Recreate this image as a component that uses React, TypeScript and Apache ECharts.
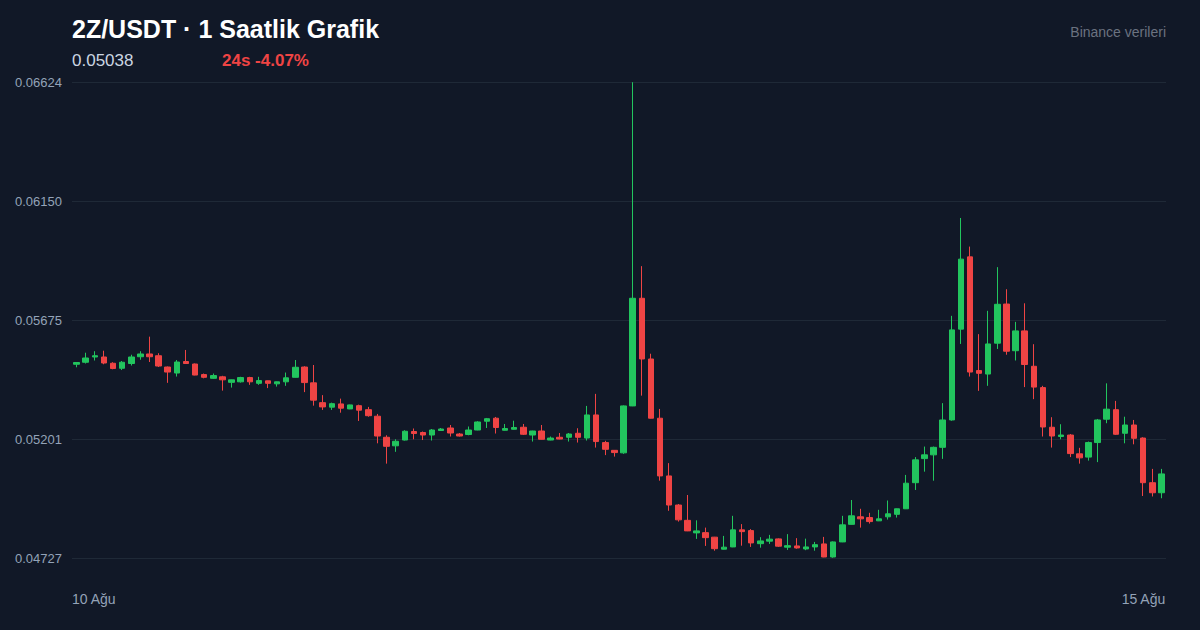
import React, { useEffect, useRef } from "react";
import * as echarts from "echarts";

// [open, close, low, high]
const candles: number[][] = [
  [0.05499, 0.05506, 0.05487, 0.05508],
  [0.05507, 0.05524, 0.05502, 0.05545],
  [0.05528, 0.05533, 0.05514, 0.05551],
  [0.05528, 0.05504, 0.05499, 0.05553],
  [0.05503, 0.05482, 0.05479, 0.05507],
  [0.05483, 0.05507, 0.05476, 0.05512],
  [0.05502, 0.05528, 0.05494, 0.05537],
  [0.05529, 0.0554, 0.05517, 0.05551],
  [0.0554, 0.05529, 0.05508, 0.05609],
  [0.05533, 0.05492, 0.05488, 0.05543],
  [0.05488, 0.05468, 0.05425, 0.0549],
  [0.05464, 0.05508, 0.0545, 0.05516],
  [0.0551, 0.05502, 0.055, 0.05556],
  [0.055, 0.05456, 0.05455, 0.05502],
  [0.05458, 0.05447, 0.05443, 0.05462],
  [0.05443, 0.05454, 0.05441, 0.05462],
  [0.05449, 0.05437, 0.05394, 0.05453],
  [0.05427, 0.05437, 0.05406, 0.05438],
  [0.05429, 0.05446, 0.05426, 0.05449],
  [0.05446, 0.05429, 0.05417, 0.05449],
  [0.05423, 0.05434, 0.05417, 0.05449],
  [0.05433, 0.05423, 0.05404, 0.05434],
  [0.05421, 0.05429, 0.0541, 0.0543],
  [0.05429, 0.05445, 0.05413, 0.05466],
  [0.05447, 0.05487, 0.05446, 0.05516],
  [0.05488, 0.05426, 0.05388, 0.05491],
  [0.05425, 0.05356, 0.05334, 0.05496],
  [0.05346, 0.05329, 0.05317, 0.05376],
  [0.05328, 0.05342, 0.05317, 0.05346],
  [0.05341, 0.05324, 0.05306, 0.05362],
  [0.05321, 0.05337, 0.0532, 0.05338],
  [0.05334, 0.05316, 0.05273, 0.05338],
  [0.05318, 0.05294, 0.0529, 0.05329],
  [0.05292, 0.05213, 0.05184, 0.05301],
  [0.05208, 0.05172, 0.05103, 0.05216],
  [0.05174, 0.05192, 0.0515, 0.052],
  [0.05197, 0.05232, 0.05195, 0.05236],
  [0.05231, 0.05223, 0.052, 0.05243],
  [0.05227, 0.05217, 0.05197, 0.05231],
  [0.05217, 0.05237, 0.05195, 0.05241],
  [0.05235, 0.05241, 0.05234, 0.05245],
  [0.05245, 0.05225, 0.05211, 0.05257],
  [0.05221, 0.05213, 0.05211, 0.05225],
  [0.05219, 0.05237, 0.05216, 0.05251],
  [0.05237, 0.05269, 0.05236, 0.05272],
  [0.05272, 0.05282, 0.05245, 0.05285],
  [0.05284, 0.05247, 0.05223, 0.05289],
  [0.05236, 0.05243, 0.05235, 0.05261],
  [0.0524, 0.05247, 0.05239, 0.05274],
  [0.05248, 0.0522, 0.05217, 0.05261],
  [0.05217, 0.05233, 0.05191, 0.05234],
  [0.05233, 0.052, 0.05199, 0.05257],
  [0.05197, 0.05205, 0.05196, 0.05211],
  [0.05208, 0.05201, 0.052, 0.05225],
  [0.05208, 0.05221, 0.05191, 0.05225],
  [0.05224, 0.05208, 0.05187, 0.05244],
  [0.05205, 0.05297, 0.05195, 0.05333],
  [0.05297, 0.05191, 0.05167, 0.05381],
  [0.05187, 0.0516, 0.05137, 0.05194],
  [0.05156, 0.05147, 0.05131, 0.05157],
  [0.05146, 0.05333, 0.05142, 0.05335],
  [0.05333, 0.05762, 0.05332, 0.06623],
  [0.05762, 0.0552, 0.05374, 0.0589],
  [0.0552, 0.05284, 0.05283, 0.05541],
  [0.05284, 0.05054, 0.05035, 0.05321],
  [0.05054, 0.04938, 0.04915, 0.05105],
  [0.04938, 0.04879, 0.04872, 0.04942],
  [0.04877, 0.04835, 0.04834, 0.04978],
  [0.04827, 0.04835, 0.04803, 0.04877],
  [0.04828, 0.04808, 0.04775, 0.04848],
  [0.0481, 0.04764, 0.04756, 0.04811],
  [0.04762, 0.0477, 0.04761, 0.04815],
  [0.04771, 0.04839, 0.0477, 0.04895],
  [0.04839, 0.04832, 0.04776, 0.04862],
  [0.04836, 0.04787, 0.04771, 0.04842],
  [0.04784, 0.04795, 0.04768, 0.0481],
  [0.04794, 0.04802, 0.04783, 0.04819],
  [0.04803, 0.04774, 0.04771, 0.04805],
  [0.0477, 0.04776, 0.04759, 0.04822],
  [0.04775, 0.04767, 0.04764, 0.04806],
  [0.04763, 0.04771, 0.04758, 0.04804],
  [0.04771, 0.0478, 0.04756, 0.04791],
  [0.04783, 0.04731, 0.0473, 0.04811],
  [0.04731, 0.04791, 0.04728, 0.04793],
  [0.04791, 0.04859, 0.0479, 0.04895],
  [0.04861, 0.04895, 0.0486, 0.04958],
  [0.04891, 0.04883, 0.04848, 0.04923],
  [0.04888, 0.04872, 0.04864, 0.04907],
  [0.04875, 0.04883, 0.04874, 0.04919],
  [0.04891, 0.04903, 0.0488, 0.04956],
  [0.04901, 0.04923, 0.04888, 0.04924],
  [0.04923, 0.05025, 0.04922, 0.05058],
  [0.05027, 0.05118, 0.04998, 0.05129],
  [0.05123, 0.05138, 0.05071, 0.05171],
  [0.05138, 0.05168, 0.05035, 0.05171],
  [0.05168, 0.05277, 0.05122, 0.05344],
  [0.05277, 0.05636, 0.05274, 0.05692],
  [0.05639, 0.05918, 0.0558, 0.06082],
  [0.05927, 0.05468, 0.0545, 0.05968],
  [0.05474, 0.05463, 0.05393, 0.05619],
  [0.0546, 0.0558, 0.05413, 0.05712],
  [0.05583, 0.05738, 0.0556, 0.05886],
  [0.05739, 0.05551, 0.05537, 0.05798],
  [0.05553, 0.05632, 0.05514, 0.05668],
  [0.05632, 0.05498, 0.05408, 0.05742],
  [0.05491, 0.05408, 0.0536, 0.05579],
  [0.05406, 0.05249, 0.05211, 0.05413],
  [0.05248, 0.05213, 0.05167, 0.05288],
  [0.05211, 0.05217, 0.052, 0.0526],
  [0.05217, 0.05143, 0.05129, 0.05221],
  [0.05142, 0.05126, 0.05103, 0.05166],
  [0.05129, 0.05187, 0.05115, 0.05191],
  [0.05187, 0.05277, 0.05109, 0.05281],
  [0.0528, 0.0532, 0.05264, 0.05423],
  [0.05318, 0.0522, 0.05217, 0.05353],
  [0.05224, 0.05257, 0.05184, 0.0529],
  [0.05257, 0.05204, 0.0518, 0.05277],
  [0.05205, 0.05027, 0.04974, 0.05208],
  [0.05027, 0.04987, 0.04972, 0.05082],
  [0.04987, 0.05062, 0.04965, 0.05082],
];

const startDay = 10;
const monthName = "Ağu";
const categories: string[] = candles.map((_, i) => {
  const day = startDay + Math.floor(i / 24);
  const hh = String(i % 24).padStart(2, "0");
  return `${day} ${monthName} ${hh}:00`;
});

const xEdgeLabels = ["10 Ağu", "15 Ağu"];
const yMin = 0.047269;
const yMax = 0.066239;
const ySplits = 4;

const titleText = "2Z/USDT · 1 Saatlik Grafik";
const lastPriceText = "0.05038";
const changeText = "24s -4.07%";
const sourceText = "Binance verileri";

const UP = "#22c55e";
const DOWN = "#ef4444";
const BG = "#111827";
const FONT = "'Liberation Sans', Arial, Helvetica, sans-serif";

export default function App() {
  const ref = useRef<HTMLDivElement>(null);
  useEffect(() => {
    if (!ref.current) return;
    const chart = echarts.init(ref.current, undefined, { renderer: "svg" });
    chart.setOption({
      animation: false,
      backgroundColor: BG,
      textStyle: { fontFamily: FONT },
      grid: { left: 72, right: 34, top: 82, bottom: 72 },
      xAxis: {
        type: "category",
        data: categories,
        boundaryGap: true,
        axisLine: { show: false },
        axisTick: { show: false },
        axisLabel: { show: false },
        splitLine: { show: false },
      },
      yAxis: {
        type: "value",
        min: yMin,
        max: yMax,
        interval: (yMax - yMin) / ySplits,
        axisLine: { show: false },
        axisTick: { show: false },
        axisLabel: {
          color: "#94a3b8",
          fontSize: 13,
          fontFamily: FONT,
          margin: 10,
          formatter: (v: number) => v.toFixed(5),
        },
        splitLine: { lineStyle: { color: "#1f2937", width: 1 } },
      },
      series: [
        {
          type: "candlestick",
          data: candles,
          barWidth: 6,
          itemStyle: {
            color: UP,
            color0: DOWN,
            borderColor: UP,
            borderColor0: DOWN,
            borderWidth: 1,
          },
        },
      ],
      graphic: [
        {
          type: "text",
          left: 72,
          top: 16,
          style: { text: titleText, fill: "#ffffff", font: `bold 25px ${FONT}` },
        },
        {
          type: "text",
          left: 72,
          top: 52,
          style: { text: lastPriceText, fill: "#cbd5e1", font: `17px ${FONT}` },
        },
        {
          type: "text",
          left: 222,
          top: 52,
          style: { text: changeText, fill: DOWN, font: `bold 17px ${FONT}` },
        },
        {
          type: "text",
          right: 34,
          top: 25,
          style: { text: sourceText, fill: "#6b7280", font: `14px ${FONT}` },
        },
        {
          type: "text",
          left: 72,
          top: 592,
          style: { text: xEdgeLabels[0], fill: "#94a3b8", font: `14px ${FONT}` },
        },
        {
          type: "text",
          right: 34,
          top: 592,
          style: { text: xEdgeLabels[1], fill: "#94a3b8", font: `14px ${FONT}` },
        },
      ],
    });
    return () => chart.dispose();
  }, []);
  return (
    <div
      ref={ref}
      style={{ position: "fixed", left: 0, top: 0, width: 1200, height: 630, background: BG }}
    />
  );
}
